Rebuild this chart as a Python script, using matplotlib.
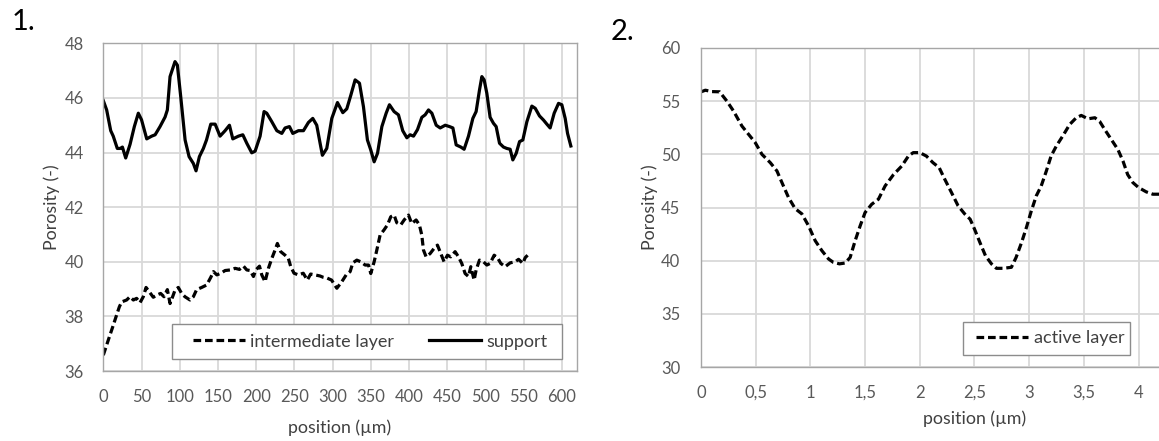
import matplotlib
matplotlib.use("Agg")
import matplotlib.pyplot as plt
from matplotlib.ticker import FuncFormatter
from matplotlib.patches import Rectangle

plt.rcParams['font.family'] = ['Lato', 'DejaVu Sans']

# ---------------- data: chart 1 ----------------
support_x = [0, 4.4, 9.7, 13, 18.3, 22.2, 25, 29.3, 35, 40.6,
             45.8, 50, 56.8, 63.3, 67.8, 74.2, 80.8, 83.8, 87.3, 93.8,
             96.9, 101.3, 107, 112.2, 117.8, 121.3, 125.7, 130.9, 135, 140.6,
             146.3, 152.7, 159.3, 165, 169.4, 176.8, 182.5, 187.7, 194.2, 198.6,
             205.1, 210.3, 213.8, 220.4, 227, 233.5, 237.8, 243.5, 247.9, 255.3,
             261.8, 268.3, 274, 279.2, 283.6, 286.6, 292.3, 298.9, 306.3, 313.3,
             318.5, 323.8, 329.4, 335.1, 340.3, 345.5, 349.8, 354.3, 358.7, 364.4,
             370, 374.3, 380.4, 386.1, 391.7, 397.1, 401.4, 405.8, 411, 416.7,
             421, 425.4, 429.8, 435.5, 440.7, 447.3, 452.9, 457.3, 461.6, 467.7,
             472, 477.7, 483.4, 487.7, 492.1, 495.2, 498.2, 501.7, 506, 510.4,
             513.9, 518.3, 523.5, 527.8, 532.2, 535.7, 540.1, 544.5, 548.8, 554.1,
             560.6, 565, 570.6, 575.8, 580.2, 584.5, 589.8, 595.5, 599.8, 604.2,
             607.3, 611.6]
support_y = [45.9, 45.56, 44.8, 44.6, 44.15, 44.15, 44.2, 43.8, 44.3, 44.95,
             45.44, 45.2, 44.5, 44.6, 44.65, 44.95, 45.3, 45.56, 46.78, 47.33,
             47.2, 46.04, 44.46, 43.85, 43.6, 43.33, 43.85, 44.15, 44.46, 45.04,
             45.04, 44.6, 44.8, 45.0, 44.5, 44.6, 44.65, 44.34, 43.99, 44.05,
             44.6, 45.5, 45.44, 45.13, 44.8, 44.7, 44.9, 44.95, 44.7, 44.8,
             44.8, 45.1, 45.25, 45.0, 44.34, 43.9, 44.15, 45.25, 45.83, 45.46,
             45.6, 46.1, 46.66, 46.54, 45.68, 44.46, 44.1, 43.66, 43.97, 44.95,
             45.44, 45.75, 45.5, 45.38, 44.8, 44.54, 44.65, 44.6, 44.84, 45.29,
             45.38, 45.56, 45.44, 45.0, 44.9, 45.0, 44.95, 44.9, 44.28, 44.2,
             44.12, 44.6, 45.25, 45.5, 46.29, 46.78, 46.66, 46.17, 45.29, 45.07,
             44.95, 44.34, 44.2, 44.15, 44.12, 43.73, 43.97, 44.4, 44.46, 45.13,
             45.7, 45.62, 45.34, 45.19, 45.04, 44.9, 45.44, 45.8, 45.75, 45.25,
             44.7, 44.24]

inter_x = [0, 6.5, 13.1, 17.4, 21, 24, 30.5, 34.9, 39.3, 43.6,
           48, 52.3, 55.9, 60.2, 65.4, 69.8, 75, 79.4, 83.8, 87.3,
           90.7, 93.8, 98.1, 102.5, 106.8, 113.4, 117.8, 122.1, 128.7, 135.2,
           140.6, 144.1, 148.5, 153.7, 159.4, 165.9, 172.5, 178.1, 183.4, 187.7,
           192.1, 196.4, 199.5, 204.3, 207.3, 211.6, 216, 220.4, 224.7, 227.7,
           232.1, 237.8, 242.1, 245.2, 249.5, 255.1, 261.6, 266.9, 271.2, 276.8,
           283.4, 287.8, 293, 298.6, 305.5, 312, 317.7, 322.9, 326.4, 331.6,
           336.8, 342.5, 346.9, 349.9, 354.3, 357.8, 362.1, 367.3, 371.7, 376.1,
           380.4, 383.9, 389.1, 393.5, 399.2, 403.5, 409.2, 413.5, 416.6, 418.8,
           422.3, 427.5, 432.7, 437.1, 441.5, 445.8, 450.2, 454.5, 460.2, 464.6,
           468.9, 473.3, 477.7, 480.7, 485.1, 487.7, 492.1, 497.3, 501.7, 506,
           511.3, 515.6, 520, 525.7, 532.2, 538.8, 543.2, 548.8, 551.9, 555]
inter_y = [36.58, 37.13, 37.68, 38.05, 38.35, 38.53, 38.6, 38.72, 38.6, 38.66,
           38.5, 38.72, 39.06, 38.9, 38.7, 38.78, 38.84, 38.72, 38.98, 38.47,
           38.72, 38.96, 39.06, 38.84, 38.72, 38.6, 38.72, 38.98, 39.06, 39.15,
           39.43, 39.64, 39.52, 39.58, 39.68, 39.7, 39.76, 39.72, 39.84, 39.7,
           39.68, 39.46, 39.7, 39.84, 39.52, 39.27, 39.76, 40.12, 40.43, 40.67,
           40.37, 40.24, 40.12, 39.82, 39.58, 39.52, 39.58, 39.33, 39.55, 39.52,
           39.48, 39.43, 39.4, 39.33, 39.03, 39.27, 39.52, 39.64, 39.96, 40.06,
           40.0, 39.88, 39.88, 39.57, 40.0, 40.43, 40.98, 41.17, 41.35, 41.65,
           41.71, 41.43, 41.35, 41.53, 41.71, 41.4, 41.53, 41.35, 40.98, 40.43,
           40.18, 40.3, 40.49, 40.61, 40.3, 40.0, 40.24, 40.18, 40.37, 40.18,
           39.94, 39.57, 39.46, 39.82, 39.33, 39.7, 40.06, 40.0, 39.88, 39.94,
           40.24, 40.15, 39.94, 39.82, 39.96, 40.0, 40.09, 39.94, 40.15, 40.24]

x1_ticks = list(range(0, 601, 50))
y1_ticks = [36, 38, 40, 42, 44, 46, 48]

# ---------------- data: chart 2 ----------------
active_x = [0, 0.04, 0.1, 0.17, 0.237, 0.298, 0.374, 0.435, 0.496, 0.557,
            0.633, 0.694, 0.74, 0.8, 0.86, 0.922, 0.983, 1.044, 1.105, 1.166,
            1.21, 1.266, 1.318, 1.363, 1.409, 1.455, 1.5, 1.56, 1.622, 1.683,
            1.76, 1.835, 1.896, 1.94, 2.0, 2.06, 2.12, 2.177, 2.228, 2.29,
            2.35, 2.41, 2.46, 2.5, 2.55, 2.6, 2.655, 2.7, 2.76, 2.837,
            2.88, 2.93, 2.974, 3.02, 3.065, 3.11, 3.157, 3.2, 3.248, 3.31,
            3.37, 3.43, 3.476, 3.537, 3.6, 3.644, 3.69, 3.75, 3.81, 3.857,
            3.9, 3.948, 4.0, 4.07, 4.13, 4.2]
active_y = [55.875, 56.03, 55.9, 55.88, 55.0, 54.06, 52.66, 51.88, 51.1, 50.0,
            49.22, 48.44, 47.34, 45.94, 44.9, 44.4, 43.28, 41.875, 40.94, 40.16,
            39.84, 39.7, 39.78, 40.3, 41.875, 43.28, 44.53, 45.3, 45.78, 47.03,
            48.1, 48.9, 49.84, 50.16, 50.16, 49.84, 49.22, 48.75, 47.66, 46.4,
            45.16, 44.4, 43.9, 42.97, 41.7, 40.47, 39.7, 39.28, 39.28, 39.375,
            40.3, 41.7, 43.1, 44.7, 46.1, 47.03, 48.44, 49.84, 50.78, 51.78,
            52.81, 53.44, 53.66, 53.34, 53.44, 53.1, 52.34, 51.4, 50.47, 49.375,
            48.1, 47.34, 46.875, 46.47, 46.25, 46.25]

x2_ticks = [0, 0.5, 1, 1.5, 2, 2.5, 3, 3.5, 4]
y2_ticks = [30, 35, 40, 45, 50, 55, 60]

# ---------------- styling ----------------
W, H = 1159, 441
TICK_C = '#595959'
LABEL_C = '#404040'
GRID_C = '#d9d9d9'
SPINE_C = '#a6a6a6'
FRAME_C = '#8c8c8c'
DASH = (0, (2.4, 1.2))

fig = plt.figure(figsize=(W / 100, H / 100), dpi=100)


def px_axes(left, top, right, bottom):
    return fig.add_axes([left / W, 1 - bottom / H, (right - left) / W, (bottom - top) / H])


def style(ax):
    ax.grid(True, color=GRID_C, lw=1.3)
    ax.set_axisbelow(True)
    for s in ax.spines.values():
        s.set_color(SPINE_C)
        s.set_linewidth(1.0)
    ax.tick_params(length=0, labelsize=12, labelcolor=TICK_C)


def legend_box(ax, box_px, content_center_px, ncol, colspacing):
    """box_px: (left, top, right, bottom) in figure pixels."""
    l, t, r, b = box_px
    x0, y0 = l / W, 1 - b / H
    rect = Rectangle((x0, y0), (r - l) / W, (b - t) / H, transform=fig.transFigure,
                     facecolor='white', edgecolor=FRAME_C, lw=1.0, zorder=5)
    fig.add_artist(rect)
    cx, cy = content_center_px
    leg = ax.legend(loc='center', bbox_to_anchor=(cx / W, 1 - cy / H),
                    bbox_transform=fig.transFigure, ncol=ncol, fontsize=13,
                    handlelength=2.9, handletextpad=0.3, columnspacing=colspacing,
                    frameon=False, borderpad=0, borderaxespad=0)
    leg.set_zorder(6)
    fig.add_artist(leg)
    for tx in leg.get_texts():
        tx.set_color(LABEL_C)
    return leg


# chart 1
ax1 = px_axes(103.3, 43.3, 576.5, 371)
style(ax1)
ax1.plot(inter_x, inter_y, color='black', lw=2.3, linestyle=DASH, label='intermediate layer')
ax1.plot(support_x, support_y, color='black', lw=2.3, label='support')
ax1.set_xlim(0, 619)
ax1.set_ylim(36, 48)
ax1.set_xticks(x1_ticks)
ax1.set_yticks(y1_ticks)
ax1.tick_params(axis='x', pad=13)
ax1.tick_params(axis='y', pad=14)
ax1.set_xlabel('position (µm)', fontsize=12.8, color=LABEL_C, labelpad=10)
ax1.set_ylabel('Porosity (-)', fontsize=12.8, color=LABEL_C, labelpad=3)
legend_box(ax1, (172, 324, 562, 359), (370, 341.5), 2, 1.9)

# chart 2 (cut off on the right by the image edge)
ax2 = px_axes(701, 48, 701 + 5 * 109.4, 367)
style(ax2)
ax2.plot(active_x, active_y, color='black', lw=2.3, linestyle=DASH, label='active layer')
ax2.set_xlim(0, 5)
ax2.set_ylim(30, 60)
ax2.set_xticks(x2_ticks)
ax2.set_yticks(y2_ticks)
ax2.xaxis.set_major_formatter(FuncFormatter(lambda v, p: ('%g' % v).replace('.', ',')))
ax2.tick_params(axis='x', pad=13)
ax2.tick_params(axis='y', pad=15)
ax2.set_xlabel('position (µm)', fontsize=12.8, color=LABEL_C, labelpad=7)
ax2.set_ylabel('Porosity (-)', fontsize=12.8, color=LABEL_C, labelpad=2)
legend_box(ax2, (963, 322, 1130, 355), (1050, 338.5), 1, 1.0)

# panel numbers
fig.text(12 / W, 1 - 22 / H, '1.', fontsize=21, color='black', va='center', ha='left')
fig.text(611 / W, 1 - 32 / H, '2.', fontsize=21, color='black', va='center', ha='left')

fig.savefig('out.png', dpi=100)
